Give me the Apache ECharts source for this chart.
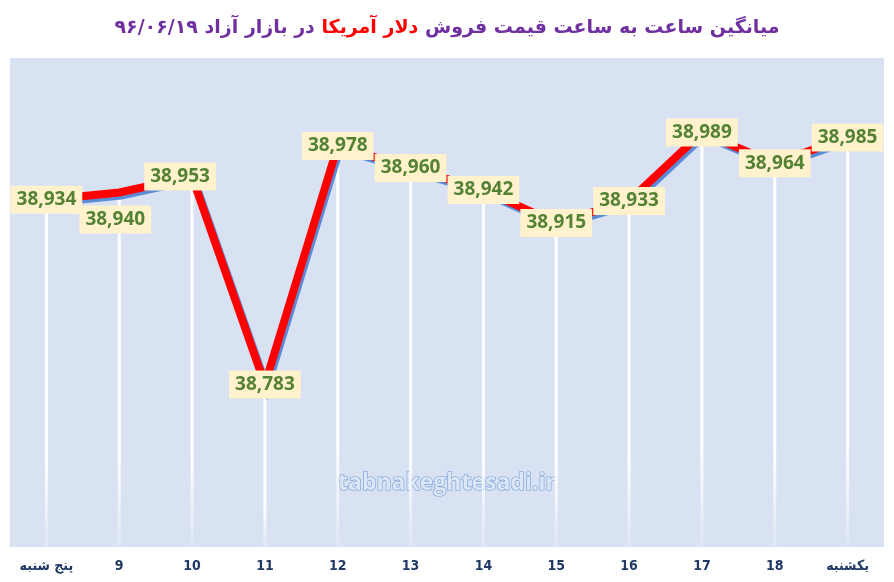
<!DOCTYPE html>
<html>
<head>
<meta charset="utf-8">
<script src="https://cdn.jsdelivr.net/npm/echarts@6/dist/echarts.min.js"></script>
<style>
  html, body { margin: 0; padding: 0; background: #fff; }
  .echarts_1 { width: 894px; height: 582px; }
</style>
</head>
<body>
<div class="echarts_1"></div>
<script>
// ساعت‌ها
var hours = ['پنج شنبه', '9', '10', '11', '12', '13', '14', '15', '16', '17', '18', 'یکشنبه'];
// میانگین قیمت فروش دلار (تومان)
var prices = [38934, 38940, 38953, 38783, 38978, 38960, 38942, 38915, 38933, 38989, 38964, 38985];
// جابجایی چند برچسب نسبت به نقطه
var labelShift = { 1: [-4, 27], 2: [-12, 0] };

var chart = echarts.init(document.querySelector('.echarts_1'));

var lineData = prices.map(function (v, i) {
    var item = { value: v };
    if (labelShift[i]) item.label = { offset: labelShift[i] };
    return item;
});

var option = {
    backgroundColor: '#fff',
    title: {
        left: 'center',
        top: 14,
        text: '{p|در بازار آزاد ۹۶/۰۶/۱۹ }{r|دلار آمریکا}{p| میانگین ساعت به ساعت قیمت فروش}',
        textStyle: {
            rich: {
                p: { color: '#7030a0', fontSize: 19, fontWeight: 'bold', fontFamily: 'DejaVu Sans' },
                r: { color: '#ff0000', fontSize: 19, fontWeight: 'bold', fontFamily: 'DejaVu Sans' }
            }
        }
    },
    grid: {
        left: 10,
        right: 10,
        top: 58,
        bottom: 35,
        show: true,
        backgroundColor: '#d9e2f3',
        borderWidth: 0
    },
    xAxis: {
        type: 'category',
        data: hours,
        axisLine: { show: false },
        axisTick: { show: false },
        axisLabel: {
            margin: 12,
            color: '#1f3864',
            fontWeight: 'bold',
            fontSize: 14,
            fontFamily: 'DejaVu Sans Condensed, DejaVu Sans'
        }
    },
    yAxis: {
        type: 'value',
        min: 38650,
        max: 39050,
        show: false,
        splitLine: { show: false }
    },
    graphic: [{
        type: 'text',
        left: 'center',
        top: 471,
        z: 1,
        style: {
            text: 'tabnakeghtesadi.ir',
            font: 'bold 23px "Open Sans"',
            fill: '#dde6f5',
            stroke: '#6f9bd8',
            lineWidth: 1.2,
            shadowColor: '#ffffff',
            shadowBlur: 12
        }
    }],
    series: [
        {
            // خطوط عمودی
            type: 'bar',
            data: prices,
            barWidth: 3,
            silent: true,
            z: 1,
            itemStyle: {
                color: new echarts.graphic.LinearGradient(0, 0, 0, 1, [
                    { offset: 0, color: '#ffffff' },
                    { offset: 0.75, color: '#ffffff' },
                    { offset: 1, color: 'rgba(255,255,255,0.15)' }
                ])
            }
        },
        {
            type: 'line',
            data: lineData,
            z: 3,
            symbol: 'circle',
            symbolSize: 2,
            showSymbol: true,
            itemStyle: { color: 'rgba(0,0,0,0)', borderWidth: 0 },
            lineStyle: {
                color: '#ff0000',
                width: 8,
                join: 'miter',
                shadowColor: '#5b8bd6',
                shadowOffsetX: 2,
                shadowOffsetY: 3,
                shadowBlur: 0
            },
            label: {
                show: true,
                position: 'inside',
                color: '#548235',
                fontWeight: 'bold',
                fontSize: 19,
                fontFamily: 'Open Sans',
                backgroundColor: '#fff2cc',
                padding: [5, 6, 4, 6],
                formatter: function (p) {
                    return p.value.toLocaleString('en-US');
                }
            }
        }
    ]
};

chart.setOption(option);
</script>
</body>
</html>
